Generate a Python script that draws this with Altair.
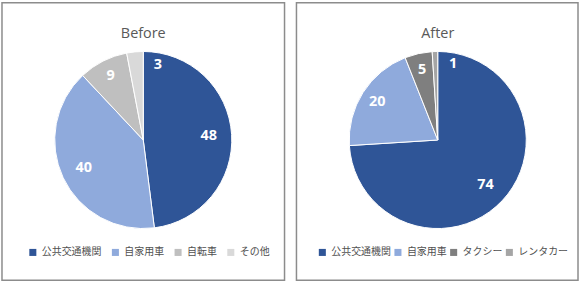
import altair as alt
import pandas as pd

before_cats = ["公共交通機関", "自家用車", "自転車", "その他"]
before_vals = [48, 40, 9, 3]
after_cats = ["公共交通機関", "自家用車", "タクシー", "レンタカー"]
after_vals = [74, 20, 5, 1]
before_colors = ["#2F5597", "#8FAADC", "#BFBFBF", "#D9D9D9"]
after_colors = ["#2F5597", "#8FAADC", "#7F7F7F", "#A5A5A5"]

JP = "Noto Sans CJK JP"
NUM = "Open Sans"
CX, CY = 142, 138


def panel(title, cats, vals, colors, width, col_pad, legend_x, small_dx):
    df = pd.DataFrame({"cat": cats, "value": vals, "idx": list(range(len(cats)))})
    base = alt.Chart(df).encode(
        theta=alt.Theta("value:Q", stack=True),
        order=alt.Order("idx:Q"),
        x=alt.value(CX),
        y=alt.value(CY),
    )
    color = alt.Color(
        "cat:N",
        scale=alt.Scale(domain=cats, range=colors),
        legend=alt.Legend(
            title=None, orient="none", direction="horizontal",
            legendX=legend_x, legendY=246,
            symbolType="square", symbolSize=50, symbolStrokeWidth=0,
            labelFont=JP, labelFontSize=10, labelColor="#505050",
            columnPadding=col_pad, labelOffset=4,
        ),
    )
    arcs = base.mark_arc(radius=89, stroke="white", strokeWidth=1).encode(color=color)

    def lab(cond, r, dx=0, dy=0):
        return base.mark_text(
            font=NUM, fontWeight="bold", fontSize=14.5, color="white", dx=dx, dy=dy
        ).encode(
            radius=alt.value(r),
            text=alt.Text("value:Q"),
            opacity=alt.condition(cond, alt.value(1), alt.value(0)),
        )

    t_big = lab("datum.value >= 30", 66)
    t_mid = lab("datum.value >= 5 && datum.value < 30", 72)
    t_small = lab("datum.value < 5", 78, dx=small_dx, dy=2)

    ttl = alt.Chart(pd.DataFrame({"t": [title]})).mark_text(
        font=NUM, fontSize=14.5, color="#595959"
    ).encode(text="t:N", x=alt.value(CX), y=alt.value(31))

    return alt.layer(arcs, t_big, t_mid, t_small, ttl).properties(width=width, height=279)


left = panel("Before", before_cats, before_vals, before_colors, 284, 9, 26, 22)
right = panel("After", after_cats, after_vals, after_colors, 283, 2, 21, 18)

chart = (
    alt.hconcat(left, right, spacing=10)
    .resolve_scale(color="independent")
    .properties(padding={"left": 1, "top": 1, "right": 1, "bottom": 1})
    .configure_view(stroke="#8C8C8C", strokeWidth=1.5)
)

chart.save("out.html", embed_options={"renderer": "svg", "actions": False})
